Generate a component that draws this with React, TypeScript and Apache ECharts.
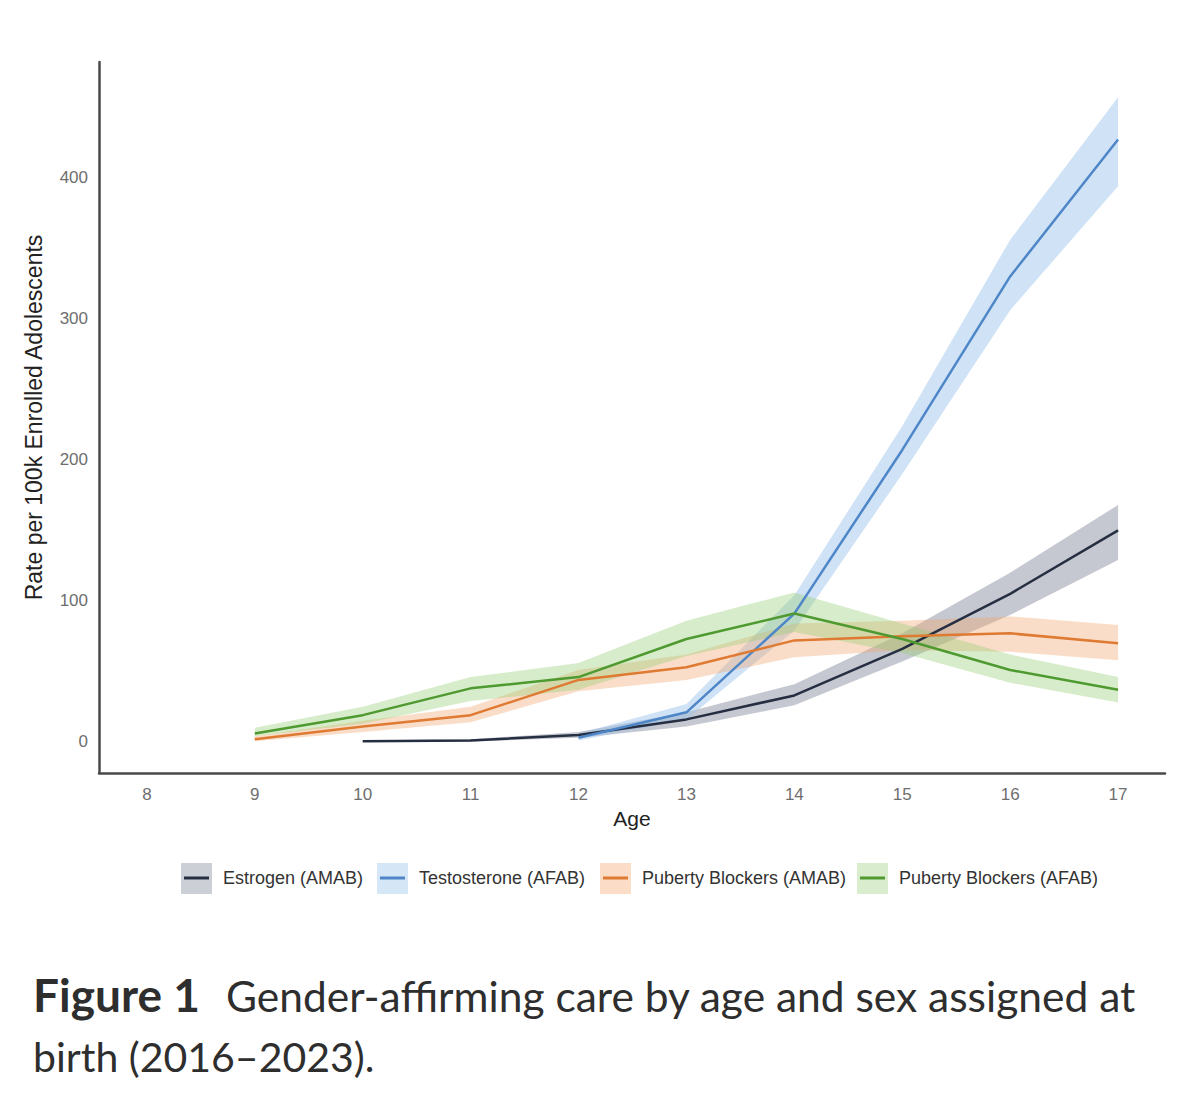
import React, { useEffect, useRef } from "react";
import * as echarts from "echarts";

// ---- Data ----
const estrogenAges = [10, 11, 12, 13, 14, 15, 16, 17];
const estrogenMean = [0.5, 1, 5, 16, 33, 66, 105, 150];
const estrogenLo = [0, 0.3, 3, 11, 26, 57, 90, 129];
const estrogenHi = [1, 2, 7, 21, 41, 77, 120, 168];

const testoAges = [12, 13, 14, 15, 16, 17];
const testoMean = [3, 21, 91, 207, 330, 427];
const testoLo = [1, 16, 79, 190, 306, 394];
const testoHi = [6, 27, 104, 224, 356, 457];

const pbAmabAges = [9, 10, 11, 12, 13, 14, 15, 16, 17];
const pbAmabMean = [2, 11, 19, 44, 53, 72, 75, 77, 70];
const pbAmabLo = [0.5, 7, 14, 36, 44, 60, 65, 64, 58];
const pbAmabHi = [4, 15, 25, 51, 62, 84, 86, 89, 83];

const pbAfabAges = [9, 10, 11, 12, 13, 14, 15, 16, 17];
const pbAfabMean = [6, 19, 38, 46, 73, 91, 73, 51, 37];
const pbAfabLo = [4, 13, 29, 37, 61, 78, 63, 42, 28];
const pbAfabHi = [10, 25, 46, 56, 86, 106, 84, 62, 46];

const xTicks = [8, 9, 10, 11, 12, 13, 14, 15, 16, 17];
const yTicks = [0, 100, 200, 300, 400];

const legendNames = [
  "Estrogen (AMAB)",
  "Testosterone (AFAB)",
  "Puberty Blockers (AMAB)",
  "Puberty Blockers (AFAB)",
];

const captionLabel = "Figure 1";
const captionLine1 = "Gender-affirming care by age and sex assigned at";
const captionLine2 = "birth (2016–2023).";

const lineColors = ["#262e41", "#4e86c8", "#de7a32", "#4f9a30"];
const bandColors = [
  "rgba(105,110,135,0.38)",
  "rgba(150,192,236,0.45)",
  "rgba(242,165,110,0.38)",
  "rgba(150,205,115,0.38)",
];
const legendBoxColors = ["#cdcfd7", "#d5e6f7", "#fbdcc6", "#d9ecce"];

const AX = "Liberation Sans, Arial, Helvetica, sans-serif";
const CAP = "Lato, 'Noto Sans', sans-serif";

function band(name: string, xs: number[], lo: number[], hi: number[], color: string) {
  return {
    type: "custom",
    name: name + " CI",
    silent: true,
    z: 1,
    data: xs.map((x, i) => [x, lo[i], hi[i]]),
    encode: { x: 0, y: [1, 2] },
    renderItem: (params: any, api: any) => {
      if (params.dataIndex !== 0) return { type: "group", children: [] };
      const pts: number[][] = [];
      for (let i = 0; i < xs.length; i++) pts.push(api.coord([xs[i], hi[i]]));
      for (let i = xs.length - 1; i >= 0; i--) pts.push(api.coord([xs[i], lo[i]]));
      return { type: "polygon", shape: { points: pts }, style: { fill: color } };
    },
  };
}

function line(name: string, xs: number[], ys: number[], color: string) {
  return {
    type: "line",
    name,
    z: 3,
    showSymbol: false,
    symbol: "none",
    data: xs.map((x, i) => [x, ys[i]]),
    lineStyle: { color, width: 2.5 },
    itemStyle: { color },
  };
}

const legendIconX = [181, 377, 600, 857];
const legendY = 878;

function legendGraphics() {
  const out: any[] = [];
  legendNames.forEach((n, i) => {
    const x = legendIconX[i];
    out.push({
      type: "rect",
      shape: { x, y: legendY - 15, width: 31, height: 31 },
      style: { fill: legendBoxColors[i] },
    });
    out.push({
      type: "line",
      shape: { x1: x + 3, y1: legendY, x2: x + 28, y2: legendY },
      style: { stroke: lineColors[i], lineWidth: 3 },
    });
    out.push({
      type: "text",
      x: x + 42,
      y: legendY,
      style: {
        text: n,
        fill: "#333",
        font: `18px ${AX}`,
        verticalAlign: "middle",
        align: "left",
      },
    });
  });
  return out;
}

export default function App() {
  const ref = useRef<HTMLDivElement>(null);
  useEffect(() => {
    if (!ref.current) return;
    const chart = echarts.init(ref.current, undefined, { renderer: "svg" });
    const option: any = {
      animation: false,
      backgroundColor: "#ffffff",
      grid: { left: 99, top: 62, width: 1066, height: 711, containLabel: false },
      xAxis: {
        type: "value",
        min: 7.556,
        max: 17.435,
        name: "Age",
        nameLocation: "middle",
        nameGap: 33,
        nameTextStyle: { fontFamily: AX, fontSize: 21, color: "#222" },
        axisLine: { show: true, onZero: false, lineStyle: { color: "#4a4a4a", width: 2.5 } },
        axisTick: { show: false },
        splitLine: { show: false },
        axisLabel: {
          customValues: xTicks,
          fontFamily: AX,
          fontSize: 17,
          color: "#6e6e6e",
          margin: 13,
        },
      },
      yAxis: {
        type: "value",
        min: -22,
        max: 482,
        name: "Rate per 100k Enrolled Adolescents",
        nameLocation: "middle",
        nameRotate: 90,
        nameGap: 54,
        nameTextStyle: { fontFamily: AX, fontSize: 23, color: "#222" },
        axisLine: { show: true, onZero: false, lineStyle: { color: "#4a4a4a", width: 2.5 } },
        axisTick: { show: false },
        splitLine: { show: false },
        axisLabel: {
          customValues: yTicks,
          fontFamily: AX,
          fontSize: 17,
          color: "#6e6e6e",
          margin: 11,
        },
      },
      series: [
        band(legendNames[0], estrogenAges, estrogenLo, estrogenHi, bandColors[0]),
        band(legendNames[1], testoAges, testoLo, testoHi, bandColors[1]),
        band(legendNames[2], pbAmabAges, pbAmabLo, pbAmabHi, bandColors[2]),
        band(legendNames[3], pbAfabAges, pbAfabLo, pbAfabHi, bandColors[3]),
        line(legendNames[0], estrogenAges, estrogenMean, lineColors[0]),
        line(legendNames[1], testoAges, testoMean, lineColors[1]),
        line(legendNames[2], pbAmabAges, pbAmabMean, lineColors[2]),
        line(legendNames[3], pbAfabAges, pbAfabMean, lineColors[3]),
      ],
      graphic: [
        ...legendGraphics(),
        {
          type: "text",
          x: 33,
          y: 994,
          style: {
            text: captionLabel,
            font: `bold 46px ${CAP}`,
            fill: "#2e2e2e",
            verticalAlign: "middle",
          },
        },
        {
          type: "text",
          x: 226,
          y: 995,
          style: {
            text: captionLine1,
            font: `42.5px ${CAP}`,
            fill: "#2e2e2e",
            verticalAlign: "middle",
          },
        },
        {
          type: "text",
          x: 33,
          y: 1056,
          style: {
            text: captionLine2,
            font: `41px ${CAP}`,
            fill: "#2e2e2e",
            verticalAlign: "middle",
          },
        },
      ],
    };
    chart.setOption(option);
    return () => chart.dispose();
  }, []);
  return (
    <div
      ref={ref}
      style={{ position: "absolute", left: 0, top: 0, width: 1200, height: 1106 }}
    />
  );
}
